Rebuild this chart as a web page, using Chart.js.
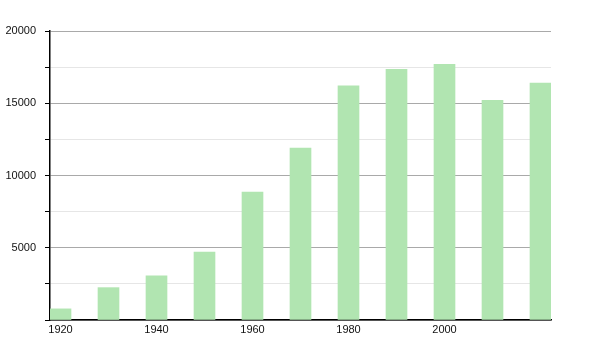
<!DOCTYPE html>
<html>
<head>
<meta charset="utf-8">
<script src="https://cdn.jsdelivr.net/npm/chart.js@4/dist/chart.umd.min.js"></script>
<style>
  html, body { margin: 0; padding: 0; background: #fff; }
  #wrap { width: 600px; height: 350px; position: relative; }
</style>
</head>
<body>
<div id="wrap"><canvas id="c" width="600" height="350"></canvas></div>
<script>
const years = [1920, 1930, 1940, 1950, 1960, 1970, 1980, 1990, 2000, 2010, 2020];
const population = [770, 2240, 3050, 4700, 8860, 11900, 16200, 17350, 17700, 15200, 16400];
const xTickLabels = [1920, 1940, 1960, 1980, 2000];
const yLabelled = [5000, 10000, 15000, 20000];

const points = years.map((y, i) => ({ x: y, y: population[i] }));

new Chart(document.getElementById('c'), {
  type: 'bar',
  data: {
    datasets: [{
      data: points,
      backgroundColor: '#b1e5b1',
      borderWidth: 0,
      barThickness: 21
    }]
  },
  options: {
    responsive: false,
    animation: false,
    devicePixelRatio: 1,
    layout: { padding: { left: 0, top: 31, right: 49, bottom: 0 } },
    plugins: { legend: { display: false }, tooltip: { enabled: false } },
    scales: {
      x: {
        type: 'linear',
        offset: false,
        min: 1917.8125,
        max: 2022.1875,
        afterBuildTicks: (s) => { s.ticks = xTickLabels.map(v => ({ value: v })); },
        afterFit: (s) => { s.height = 30; },
        grid: { display: false, drawTicks: false, offset: false },
        border: { display: true, color: '#000', width: 1.5 },
        ticks: {
          padding: 3,
          color: '#111',
          font: { family: 'Liberation Sans, Arial, sans-serif', size: 11 },
          maxRotation: 0,
          autoSkip: false,
          callback: (v) => String(v)
        }
      },
      y: {
        min: 0,
        max: 20000,
        afterFit: (s) => { s.width = 50; },
        grid: {
          color: (ctx) => (ctx.tick && ctx.tick.value % 5000 === 0) ? '#a9a9a9' : '#e6e6e6',
          tickColor: '#000',
          tickLength: 5,
          lineWidth: 1
        },
        border: { display: true, color: '#000', width: 1.5 },
        ticks: {
          stepSize: 2500,
          padding: 9,
          color: '#111',
          font: { family: 'Liberation Sans, Arial, sans-serif', size: 11 },
          callback: (v) => yLabelled.includes(v) ? String(v) : ''
        }
      }
    }
  }
});
</script>
</body>
</html>
